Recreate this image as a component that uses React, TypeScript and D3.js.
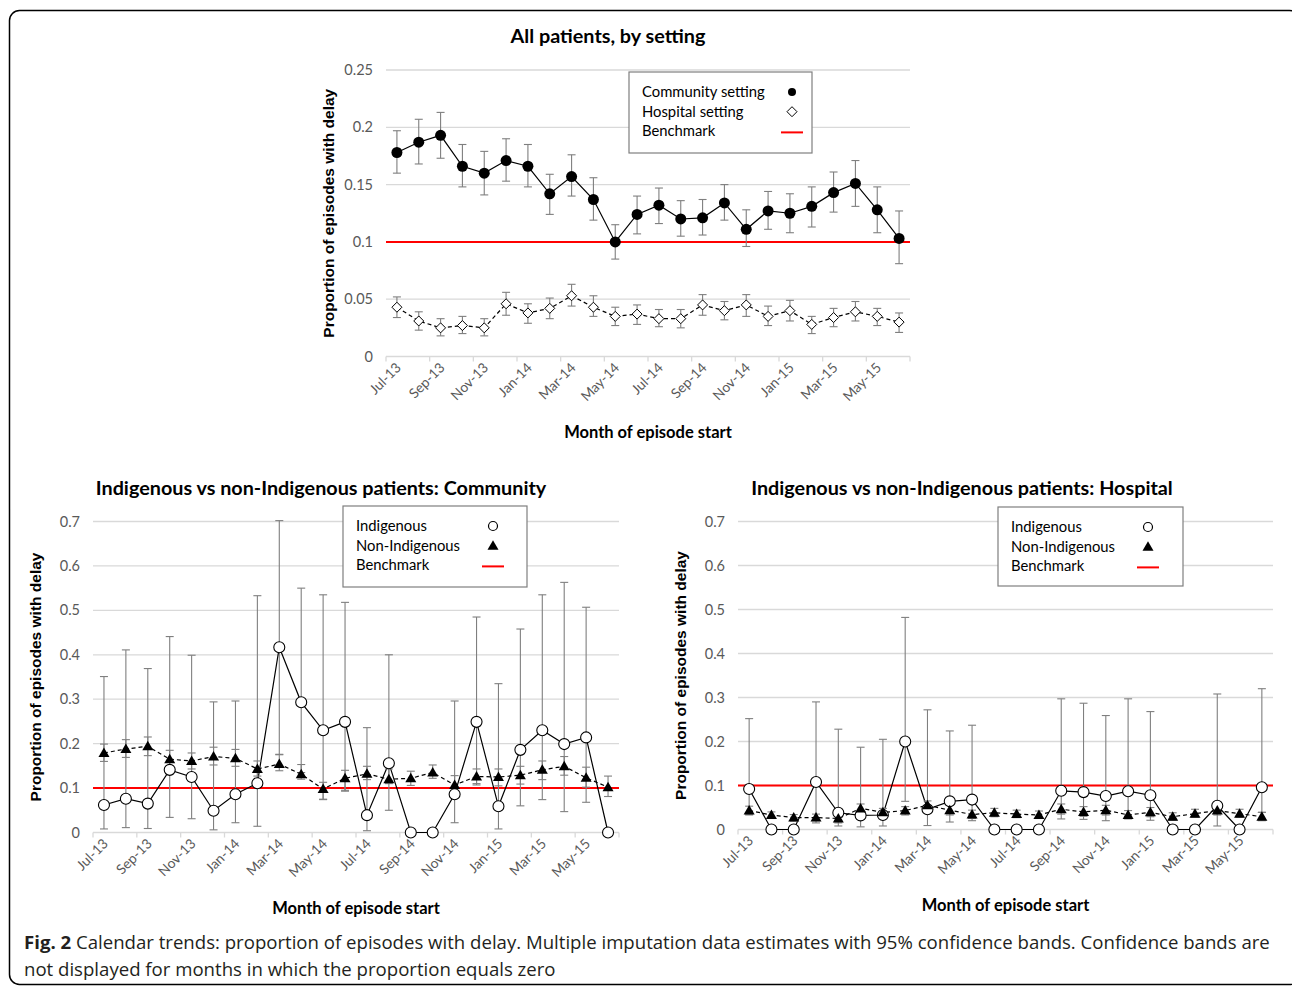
import React from "react";
import * as d3 from "d3";

// months on the x axis (Jul-13 .. Jun-15)
const months = [
  "Jul-13", "Aug-13", "Sep-13", "Oct-13", "Nov-13", "Dec-13",
  "Jan-14", "Feb-14", "Mar-14", "Apr-14", "May-14", "Jun-14",
  "Jul-14", "Aug-14", "Sep-14", "Oct-14", "Nov-14", "Dec-14",
  "Jan-15", "Feb-15", "Mar-15", "Apr-15", "May-15", "Jun-15",
];
const tickMonths = months.filter((_, i) => i % 2 === 0);

const topTicks = [0, 0.05, 0.1, 0.15, 0.2, 0.25];
const bottomTicks = [0, 0.1, 0.2, 0.3, 0.4, 0.5, 0.6, 0.7];
const benchmark = 0.1;

// All patients: community setting
const commRate = [0.178, 0.187, 0.193, 0.166, 0.16, 0.171, 0.166, 0.142, 0.157, 0.137, 0.1, 0.124, 0.132, 0.12, 0.121, 0.134, 0.111, 0.127, 0.125, 0.131, 0.143, 0.151, 0.128, 0.103];
const commLo = [0.16, 0.168, 0.173, 0.148, 0.141, 0.153, 0.148, 0.124, 0.14, 0.119, 0.085, 0.107, 0.116, 0.105, 0.106, 0.119, 0.096, 0.111, 0.108, 0.113, 0.126, 0.131, 0.108, 0.081];
const commHi = [0.197, 0.207, 0.213, 0.185, 0.179, 0.19, 0.185, 0.159, 0.176, 0.156, 0.115, 0.14, 0.147, 0.136, 0.137, 0.15, 0.128, 0.144, 0.142, 0.148, 0.161, 0.171, 0.148, 0.127];

// All patients: hospital setting
const hospRate = [0.043, 0.031, 0.025, 0.027, 0.025, 0.046, 0.038, 0.042, 0.053, 0.043, 0.035, 0.037, 0.033, 0.033, 0.045, 0.04, 0.045, 0.035, 0.04, 0.028, 0.034, 0.039, 0.035, 0.03];
const hospLo = [0.034, 0.023, 0.018, 0.02, 0.018, 0.036, 0.029, 0.033, 0.044, 0.035, 0.027, 0.028, 0.026, 0.025, 0.036, 0.032, 0.035, 0.027, 0.031, 0.02, 0.026, 0.031, 0.027, 0.021];
const hospHi = [0.052, 0.039, 0.033, 0.035, 0.033, 0.056, 0.046, 0.051, 0.063, 0.053, 0.043, 0.045, 0.041, 0.041, 0.054, 0.048, 0.054, 0.044, 0.049, 0.035, 0.042, 0.048, 0.042, 0.038];

// Community: Indigenous (zero months carry no CI)
const comIndRate = [0.062, 0.076, 0.065, 0.141, 0.125, 0.049, 0.086, 0.111, 0.417, 0.293, 0.23, 0.249, 0.039, 0.156, 0, 0, 0.086, 0.249, 0.059, 0.186, 0.23, 0.199, 0.214, 0];
const comIndLo = [0.008, 0.011, 0.009, 0.034, 0.031, 0.006, 0.022, 0.014, 0.175, 0.135, 0.075, 0.095, 0.004, 0.05, null, null, 0.022, 0.11, 0.008, 0.06, 0.074, 0.047, 0.068, null];
const comIndHi = [0.351, 0.411, 0.369, 0.441, 0.399, 0.294, 0.296, 0.533, 0.702, 0.55, 0.535, 0.518, 0.236, 0.4, null, null, 0.296, 0.485, 0.335, 0.458, 0.535, 0.563, 0.507, null];

// Community: non-Indigenous
const comNonRate = [0.179, 0.188, 0.194, 0.165, 0.161, 0.171, 0.167, 0.143, 0.154, 0.131, 0.098, 0.122, 0.132, 0.12, 0.122, 0.135, 0.107, 0.126, 0.125, 0.129, 0.141, 0.149, 0.123, 0.102];
const comNonLo = [0.16, 0.169, 0.173, 0.146, 0.143, 0.152, 0.149, 0.127, 0.139, 0.12, 0.074, 0.093, 0.119, 0.11, 0.106, 0.122, 0.092, 0.107, 0.105, 0.109, 0.119, 0.129, 0.102, 0.081];
const comNonHi = [0.199, 0.209, 0.215, 0.185, 0.179, 0.192, 0.187, 0.161, 0.176, 0.153, 0.113, 0.14, 0.149, 0.143, 0.138, 0.152, 0.128, 0.143, 0.143, 0.149, 0.161, 0.171, 0.147, 0.127];

// Hospital: Indigenous
const hosIndRate = [0.092, 0, 0, 0.108, 0.038, 0.032, 0.033, 0.2, 0.046, 0.064, 0.068, 0, 0, 0, 0.088, 0.085, 0.076, 0.087, 0.078, 0, 0, 0.054, 0, 0.096];
const hosIndLo = [0.035, null, null, 0.015, 0.008, 0.006, 0.008, 0.064, 0.009, 0.017, 0.02, null, null, null, 0.024, 0.023, 0.02, 0.03, 0.021, null, null, 0.008, null, 0.039];
const hosIndHi = [0.252, null, null, 0.29, 0.228, 0.187, 0.205, 0.482, 0.272, 0.224, 0.237, null, null, null, 0.297, 0.287, 0.259, 0.297, 0.268, null, null, 0.308, null, 0.32];

// Hospital: non-Indigenous
const hosNonRate = [0.043, 0.033, 0.027, 0.027, 0.025, 0.048, 0.039, 0.043, 0.055, 0.044, 0.034, 0.038, 0.035, 0.033, 0.046, 0.04, 0.044, 0.033, 0.039, 0.029, 0.036, 0.043, 0.036, 0.029];
const hosNonLo = [0.033, 0.025, 0.019, 0.02, 0.015, 0.036, 0.029, 0.033, 0.044, 0.033, 0.025, 0.029, 0.027, 0.025, 0.035, 0.03, 0.033, 0.024, 0.029, 0.021, 0.028, 0.033, 0.028, 0.02];
const hosNonHi = [0.053, 0.04, 0.034, 0.035, 0.04, 0.058, 0.048, 0.052, 0.065, 0.055, 0.044, 0.048, 0.044, 0.042, 0.058, 0.052, 0.055, 0.043, 0.05, 0.038, 0.046, 0.054, 0.046, 0.039];

const GRAY_TEXT = "#595959";
const GRID = "#d9d9d9";
const BAR = "#7f7f7f";
const TXT = "Lato, 'Open Sans', sans-serif";
const BOLD_AX = "'Liberation Sans', Arial, sans-serif";
const CAPTION = "'Open Sans', sans-serif";

type Marker = "dot" | "diamond" | "ring" | "triangle";

interface Series {
  rate: number[];
  lo: (number | null)[];
  hi: (number | null)[];
  marker: Marker;
  dashed: boolean;
}

const MarkerShape = ({ kind, x, y }: { kind: Marker; x: number; y: number }) => {
  if (kind === "dot") return <circle cx={x} cy={y} r={5.5} fill="#000" />;
  if (kind === "ring")
    return <circle cx={x} cy={y} r={5.5} fill="#fff" stroke="#000" strokeWidth={1.1} />;
  if (kind === "diamond")
    return (
      <path
        d={`M${x},${y - 5} L${x + 5},${y} L${x},${y + 5} L${x - 5},${y} Z`}
        fill="#fff"
        stroke="#000"
        strokeWidth={1}
      />
    );
  return <path d={`M${x},${y - 5.5} L${x + 5.5},${y + 4} L${x - 5.5},${y + 4} Z`} fill="#000" />;
};

interface PanelProps {
  x0: number;
  x1: number;
  yTop: number;
  yBottom: number;
  yMax: number;
  ticks: number[];
  title: string;
  titleX: number;
  series: Series[];
  legend: { label: string; marker: Marker | "line" }[];
  legendBox: { x: number; y: number; w: number; h: number; symX: number };
}

const Panel = ({ x0, x1, yTop, yBottom, yMax, ticks, title, titleX, series, legend, legendBox }: PanelProps) => {
  const x = d3.scaleBand<string>().domain(months).range([x0, x1]).paddingInner(0).paddingOuter(0);
  const bw = x.bandwidth();
  const cx = (i: number) => (x(months[i]) as number) + bw / 2;
  const y = d3.scaleLinear().domain([0, yMax]).range([yBottom, yTop]);
  const midY = (yTop + yBottom) / 2;
  const midX = (x0 + x1) / 2;

  return (
    <g>
      <text x={titleX} y={yTop - 27} textAnchor="middle" fontFamily={TXT} fontWeight={700} fontSize={19.8} fill="#000">
        {title}
      </text>
      {/* gridlines and y ticks */}
      {ticks.map((t) => (
        <g key={t}>
          <line x1={x0} x2={x1} y1={y(t)} y2={y(t)} stroke={GRID} strokeWidth={1.3} />
          <text x={x0 - 13} y={y(t) + 5} textAnchor="end" fontFamily={TXT} fontSize={14.5} fill={GRAY_TEXT}>
            {String(+t.toFixed(2))}
          </text>
        </g>
      ))}
      {/* x tick marks every two months */}
      {d3.range(0, months.length + 1, 2).map((i) => (
        <line key={i} x1={x0 + i * bw} x2={x0 + i * bw} y1={yBottom} y2={yBottom + 5} stroke={GRID} strokeWidth={1.3} />
      ))}
      {tickMonths.map((m) => {
        const px = (x(m) as number) + bw / 2 + 5;
        const py = yBottom + 12;
        return (
          <text
            key={m}
            transform={`translate(${px},${py}) rotate(-45)`}
            textAnchor="end"
            fontFamily={TXT}
            fontSize={13.8}
            fill={GRAY_TEXT}
          >
            {m}
          </text>
        );
      })}
      <text x={midX} y={yBottom + 81} textAnchor="middle" fontFamily={TXT} fontWeight={700} fontSize={16.5} fill="#000">
        Month of episode start
      </text>
      <text
        transform={`translate(${x0 - 52},${midY}) rotate(-90)`}
        textAnchor="middle"
        fontFamily={BOLD_AX}
        fontWeight={700}
        fontSize={15.5}
        fill="#000"
      >
        Proportion of episodes with delay
      </text>

      {/* benchmark */}
      <line x1={x0} x2={x1} y1={y(benchmark)} y2={y(benchmark)} stroke="#ff0000" strokeWidth={2} />

      {series.map((s, si) => {
        const line = d3
          .line<number>()
          .x((_, i) => cx(i))
          .y((d) => y(d));
        return (
          <g key={si}>
            {s.rate.map((_, i) => {
              const lo = s.lo[i];
              const hi = s.hi[i];
              if (lo == null || hi == null) return null;
              const px = cx(i);
              return (
                <g key={i} stroke={BAR} strokeWidth={1.1}>
                  <line x1={px} x2={px} y1={y(hi)} y2={y(lo)} />
                  <line x1={px - 4} x2={px + 4} y1={y(hi)} y2={y(hi)} />
                  <line x1={px - 4} x2={px + 4} y1={y(lo)} y2={y(lo)} />
                </g>
              );
            })}
            <path
              d={line(s.rate) as string}
              fill="none"
              stroke="#000"
              strokeWidth={1.2}
              strokeDasharray={s.dashed ? "4 3" : undefined}
            />
          </g>
        );
      })}
      {series.map((s, si) => (
        <g key={`m${si}`}>
          {s.rate.map((v, i) => (
            <MarkerShape key={i} kind={s.marker} x={cx(i)} y={y(v)} />
          ))}
        </g>
      ))}

      {/* legend */}
      <rect x={legendBox.x} y={legendBox.y} width={legendBox.w} height={legendBox.h} fill="#fff" stroke="#7f7f7f" strokeWidth={1.2} />
      {legend.map((l, i) => {
        const ly = legendBox.y + 20 + i * 19.7;
        return (
          <g key={l.label}>
            <text x={legendBox.x + 13} y={ly + 5} fontFamily={TXT} fontSize={14.8} fill="#000">
              {l.label}
            </text>
            {l.marker === "line" ? (
              <line x1={legendBox.symX - 11} x2={legendBox.symX + 11} y1={ly + 1} y2={ly + 1} stroke="#ff0000" strokeWidth={2} />
            ) : l.marker === "ring" ? (
              <circle cx={legendBox.symX} cy={ly} r={4.5} fill="#fff" stroke="#000" strokeWidth={1.2} />
            ) : l.marker === "dot" ? (
              <circle cx={legendBox.symX} cy={ly} r={4} fill="#000" />
            ) : (
              <MarkerShape kind={l.marker} x={legendBox.symX} y={ly} />
            )}
          </g>
        );
      })}
    </g>
  );
};

const App = () => {
  const indLegend = [
    { label: "Indigenous", marker: "ring" as const },
    { label: "Non-Indigenous", marker: "triangle" as const },
    { label: "Benchmark", marker: "line" as const },
  ];
  return (
    <svg
      width={1292}
      height={987}
      style={{ position: "absolute", left: 0, top: 0, background: "#fff" }}
    >
      <rect x={9.5} y={10.5} width={1290} height={974} rx={10} fill="#fff" stroke="#000" strokeWidth={1.5} />

      <Panel
        x0={386}
        x1={910}
        yTop={70}
        yBottom={356.5}
        yMax={0.25}
        ticks={topTicks}
        title="All patients, by setting"
        titleX={608}
        series={[
          { rate: commRate, lo: commLo, hi: commHi, marker: "dot", dashed: false },
          { rate: hospRate, lo: hospLo, hi: hospHi, marker: "diamond", dashed: true },
        ]}
        legend={[
          { label: "Community setting", marker: "dot" },
          { label: "Hospital setting", marker: "diamond" },
          { label: "Benchmark", marker: "line" },
        ]}
        legendBox={{ x: 629, y: 72, w: 183, h: 81, symX: 792 }}
      />

      <Panel
        x0={93}
        x1={619}
        yTop={521.5}
        yBottom={832.5}
        yMax={0.7}
        ticks={bottomTicks}
        title="Indigenous vs non-Indigenous patients: Community"
        titleX={321}
        series={[
          { rate: comIndRate, lo: comIndLo, hi: comIndHi, marker: "ring", dashed: false },
          { rate: comNonRate, lo: comNonLo, hi: comNonHi, marker: "triangle", dashed: true },
        ]}
        legend={indLegend}
        legendBox={{ x: 343, y: 506, w: 184, h: 81, symX: 493 }}
      />

      <Panel
        x0={738}
        x1={1273}
        yTop={521.5}
        yBottom={829.5}
        yMax={0.7}
        ticks={bottomTicks}
        title="Indigenous vs non-Indigenous patients: Hospital"
        titleX={962}
        series={[
          { rate: hosIndRate, lo: hosIndLo, hi: hosIndHi, marker: "ring", dashed: false },
          { rate: hosNonRate, lo: hosNonLo, hi: hosNonHi, marker: "triangle", dashed: true },
        ]}
        legend={indLegend}
        legendBox={{ x: 998, y: 507, w: 185, h: 79, symX: 1148 }}
      />

      <text x={24} y={949} fontFamily={CAPTION} fontSize={18.6} fill="#231f20">
        <tspan fontWeight={700}>Fig. 2</tspan> Calendar trends: proportion of episodes with delay. Multiple imputation data
        estimates with 95% confidence bands. Confidence bands are
      </text>
      <text x={24} y={976} fontFamily={CAPTION} fontSize={18.6} fill="#231f20">
        not displayed for months in which the proportion equals zero
      </text>
    </svg>
  );
};

export default App;
